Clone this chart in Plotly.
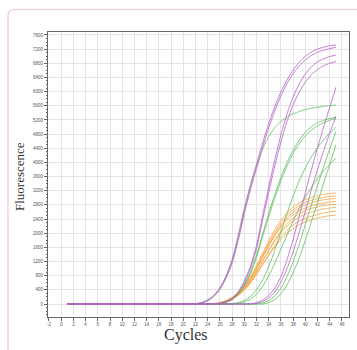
import plotly.graph_objects as go

CYCLES = list(range(1, 46))
X_TICKS = list(range(-2, 47, 2))
Y_TICKS = list(range(0, 7601, 400))

def full(start, vals):
    # baseline (read as 0) before the curve starts rising
    out = [0] * (start - 1) + vals
    assert len(out) == 45, (start, len(out))
    return out

# purple series
P1 = full(22, [10, 40, 110, 240, 450, 780, 1250, 1950, 2700, 3350, 3950, 4550, 5100, 5580, 5990, 6330, 6610, 6830, 7000, 7120, 7200, 7255, 7295, 7317])
P2 = full(22, [5, 30, 90, 210, 410, 720, 1150, 1800, 2550, 3230, 3830, 4430, 4980, 5460, 5880, 6230, 6510, 6730, 6900, 7020, 7110, 7170, 7215, 7252])
P3 = full(26, [20, 70, 160, 350, 650, 1070, 1650, 2500, 3300, 4080, 4780, 5370, 5850, 6220, 6500, 6700, 6840, 6930, 6990, 7035])
P4 = full(26, [15, 60, 140, 320, 600, 1000, 1560, 2380, 3150, 3900, 4580, 5160, 5630, 5990, 6270, 6480, 6630, 6730, 6800, 6847])
P5 = full(31, [10, 40, 110, 240, 450, 780, 1250, 1830, 2480, 3150, 3800, 4420, 5000, 5560, 6122])
P6 = full(32, [20, 70, 170, 340, 620, 1000, 1480, 2030, 2620, 3230, 3800, 4330, 4830, 5300])

# green series
G1 = full(22, [10, 40, 110, 240, 450, 770, 1230, 1850, 2620, 3340, 3900, 4380, 4740, 4980, 5150, 5280, 5370, 5440, 5490, 5530, 5560, 5585, 5605, 5622])
G2 = full(26, [15, 55, 130, 290, 540, 900, 1380, 1980, 2560, 3100, 3580, 4000, 4350, 4630, 4850, 5010, 5120, 5190, 5240, 5274])
G3 = full(26, [15, 50, 120, 270, 510, 860, 1320, 1900, 2470, 3000, 3480, 3900, 4250, 4530, 4750, 4910, 5030, 5120, 5190, 5240])
G4 = full(28, [10, 40, 100, 210, 400, 680, 1060, 1520, 2040, 2560, 3050, 3480, 3850, 4160, 4420, 4640, 4830, 4992])
G5 = full(29, [20, 60, 140, 280, 500, 800, 1150, 1550, 1950, 2350, 2700, 3020, 3300, 3550, 3770, 3950, 4116])
G6 = full(33, [30, 100, 230, 450, 780, 1200, 1700, 2250, 2800, 3350, 3880, 4390, 4869])
G7 = full(34, [40, 130, 290, 540, 880, 1300, 1800, 2330, 2870, 3420, 3960, 4492])

# orange series
O1 = full(25, [10, 40, 100, 190, 330, 520, 780, 1090, 1440, 1780, 2100, 2370, 2580, 2740, 2860, 2950, 3010, 3060, 3095, 3120, 3136])
O2 = full(25, [10, 35, 90, 175, 305, 485, 730, 1030, 1370, 1710, 2020, 2290, 2500, 2660, 2780, 2870, 2930, 2980, 3015, 3035, 3050])
O3 = full(26, [30, 80, 160, 285, 460, 700, 990, 1320, 1650, 1960, 2220, 2430, 2590, 2710, 2800, 2860, 2910, 2945, 2965, 2980])
O4 = full(26, [30, 85, 170, 300, 480, 720, 1010, 1330, 1640, 1930, 2170, 2370, 2520, 2630, 2710, 2770, 2820, 2855, 2880, 2900])
O5 = full(26, [25, 70, 145, 260, 420, 640, 910, 1210, 1520, 1810, 2060, 2270, 2430, 2550, 2640, 2700, 2750, 2785, 2805, 2820])
O6 = full(26, [30, 80, 160, 280, 450, 670, 930, 1220, 1510, 1780, 2010, 2200, 2350, 2460, 2540, 2600, 2650, 2685, 2710, 2730])
O7 = full(26, [20, 60, 130, 240, 390, 590, 840, 1110, 1390, 1660, 1890, 2080, 2230, 2340, 2420, 2480, 2530, 2570, 2600, 2620])
O8 = full(26, [25, 70, 150, 260, 410, 610, 850, 1110, 1370, 1610, 1820, 1990, 2130, 2240, 2320, 2380, 2430, 2465, 2495, 2514])

PURPLE = "#b561c6"
GREEN = "#5cbf5c"
ORANGE = "#f7a43f"

series = [
    (O1, ORANGE), (O2, ORANGE), (O3, ORANGE), (O4, ORANGE),
    (O5, ORANGE), (O6, ORANGE), (O7, ORANGE), (O8, ORANGE),
    (G1, GREEN), (G2, GREEN), (G3, GREEN), (G4, GREEN), (G5, GREEN), (G6, GREEN), (G7, GREEN),
    (P1, PURPLE), (P2, PURPLE), (P3, PURPLE), (P4, PURPLE), (P5, PURPLE), (P6, PURPLE),
]

fig = go.Figure()
for vals, col in series:
    fig.add_trace(go.Scatter(x=CYCLES, y=vals, mode="lines",
                             line=dict(color=col, width=1, shape="spline", smoothing=0.6),
                             opacity=0.8, hoverinfo="skip", showlegend=False))

W, H = 357, 350
L, R, T, B = 48, 8, 32, 33
pw, ph = W - L - R, H - T - B

def px(x):
    return (x - L) / pw

def py(y):
    return (H - B - y) / ph

border_path = (f"M {px(8)},{py(372)} L {px(8)},{py(16)} "
               f"Q {px(8)},{py(9.5)} {px(14.5)},{py(9.5)} L {px(372)},{py(9.5)}")

fig.update_layout(
    width=W, height=H,
    margin=dict(l=L, r=R, t=T, b=B, pad=0),
    paper_bgcolor="white", plot_bgcolor="white",
    showlegend=False,
    shapes=[dict(type="path", xref="paper", yref="paper", path=border_path,
                 line=dict(color="#f3c2d6", width=1.2), layer="below")],
    annotations=[
        dict(text="Fluorescence", xref="paper", yref="paper", x=px(19), y=py(176),
             showarrow=False, textangle=-90, xanchor="center", yanchor="middle",
             font=dict(family="Liberation Serif", size=13, color="#333333")),
        dict(text="Cycles", xref="paper", yref="paper", x=px(186), y=py(335),
             showarrow=False, xanchor="center", yanchor="middle",
             font=dict(family="Liberation Serif", size=16, color="#333333")),
    ],
)

fig.update_xaxes(
    range=[-2.16, 47.15], tickvals=X_TICKS, ticktext=[str(v) for v in X_TICKS],
    showgrid=True, gridcolor="#e4e4e4", gridwidth=1, zeroline=False,
    showline=True, linecolor="#666666", linewidth=1, mirror=True,
    ticks="outside", ticklen=3, tickcolor="#666666",
    tickfont=dict(size=4.5, color="#555555", family="Liberation Sans"),
)
fig.update_yaxes(
    range=[-367, 7684], tickvals=Y_TICKS, ticktext=[str(v) for v in Y_TICKS],
    showgrid=True, gridcolor="#e4e4e4", gridwidth=1, zeroline=False,
    showline=True, linecolor="#666666", linewidth=1, mirror=True,
    ticks="outside", ticklen=3, tickcolor="#666666",
    tickfont=dict(size=4.5, color="#555555", family="Liberation Sans"),
    minor=dict(dtick=100, tick0=0, ticklen=1.5, ticks="outside", tickcolor="#666666", showgrid=False),
)

fig.write_html("out.html", config={"displayModeBar": False},
               post_script="document.body.style.margin='0';document.body.style.overflow='hidden';")
